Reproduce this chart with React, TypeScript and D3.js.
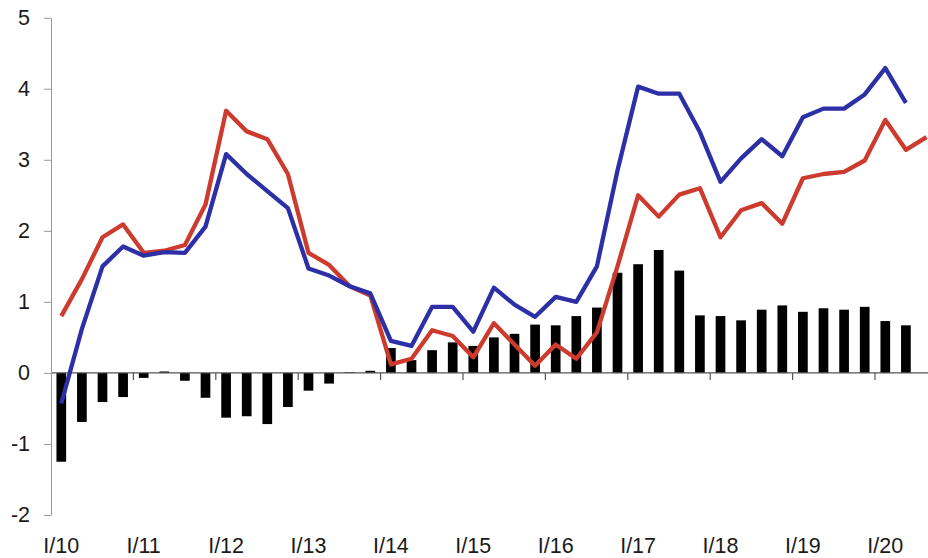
import { useEffect, useRef } from "react"
import * as d3 from "d3"

// quarters from I/10 to IV/20
const quarters = [
  "I/10", "II/10", "III/10", "IV/10",
  "I/11", "II/11", "III/11", "IV/11",
  "I/12", "II/12", "III/12", "IV/12",
  "I/13", "II/13", "III/13", "IV/13",
  "I/14", "II/14", "III/14", "IV/14",
  "I/15", "II/15", "III/15", "IV/15",
  "I/16", "II/16", "III/16", "IV/16",
  "I/17", "II/17", "III/17", "IV/17",
  "I/18", "II/18", "III/18", "IV/18",
  "I/19", "II/19", "III/19", "IV/19",
  "I/20", "II/20", "III/20", "IV/20",
]

const yearLabels = ["I/10", "I/11", "I/12", "I/13", "I/14", "I/15", "I/16", "I/17", "I/18", "I/19", "I/20"]

const yTicks = [-2, -1, 0, 1, 2, 3, 4, 5]

const bars = [
  -1.25, -0.69, -0.41, -0.34, -0.07, 0.02, -0.11, -0.35,
  -0.63, -0.61, -0.72, -0.48, -0.25, -0.15, 0.01, 0.03,
  0.35, 0.18, 0.32, 0.43, 0.38, 0.5, 0.55, 0.68,
  0.67, 0.8, 0.92, 1.41, 1.53, 1.73, 1.44, 0.81,
  0.8, 0.74, 0.89, 0.95, 0.86, 0.91, 0.89, 0.93,
  0.73, 0.67,
]

const blue = [
  -0.43, 0.62, 1.5, 1.78, 1.65, 1.7, 1.69, 2.06,
  3.08, 2.8, 2.56, 2.32, 1.47, 1.37, 1.22, 1.12,
  0.45, 0.38, 0.93, 0.93, 0.58, 1.2, 0.96, 0.79,
  1.07, 1.0, 1.5, 2.85, 4.03, 3.93, 3.93, 3.39,
  2.69, 3.02, 3.29, 3.05, 3.6, 3.72, 3.72, 3.92,
  4.29, 3.8,
]

const red = [
  0.8, 1.32, 1.91, 2.09, 1.69, 1.72, 1.8, 2.37,
  3.69, 3.4, 3.29, 2.8, 1.69, 1.52, 1.22, 1.09,
  0.12, 0.2, 0.6, 0.52, 0.22, 0.7, 0.4, 0.1,
  0.4, 0.2, 0.57, 1.5, 2.5, 2.2, 2.51, 2.6,
  1.91, 2.29, 2.39, 2.1, 2.74, 2.8, 2.83, 2.99,
  3.56, 3.14, 3.32,
]

export default function App() {
  const svgRef = useRef<SVGSVGElement>(null)

  useEffect(() => {
    if (!svgRef.current) return
    d3.select(svgRef.current).selectAll("*").remove()

    const width = 928
    const height = 558
    const left = 51
    const font = "'Liberation Sans', Arial, sans-serif"

    const svg = d3.select(svgRef.current).attr("width", width).attr("height", height)

    const x = d3
      .scaleBand()
      .domain(quarters)
      .range([left, left + quarters.length * 20.6])

    const y = d3.scaleLinear().domain([-2, 5]).range([515, 17.7])

    const cx = (i: number) => (x(quarters[i]) || 0) + x.bandwidth() / 2
    const barW = x.bandwidth() * 0.47

    // bars
    svg
      .append("g")
      .selectAll("rect")
      .data(bars)
      .enter()
      .append("rect")
      .attr("x", (d, i) => cx(i) - barW / 2)
      .attr("y", (d) => y(Math.max(0, d)))
      .attr("width", barW)
      .attr("height", (d) => Math.abs(y(d) - y(0)))
      .attr("fill", "#000")

    // x axis line at zero
    const xa = svg.append("g")
    xa.append("line")
      .attr("x1", left)
      .attr("x2", width)
      .attr("y1", y(0))
      .attr("y2", y(0))
      .attr("stroke", "#555")
      .attr("stroke-width", 1.2)

    xa.selectAll(".tick")
      .data(yearLabels.slice(1))
      .enter()
      .append("line")
      .attr("x1", (d) => x(d) || 0)
      .attr("x2", (d) => x(d) || 0)
      .attr("y1", y(0))
      .attr("y2", y(0) + 7)
      .attr("stroke", "#555")
      .attr("stroke-width", 1.2)

    xa.selectAll(".lbl")
      .data(yearLabels)
      .enter()
      .append("text")
      .attr("x", (d) => (x(d) || 0) + x.bandwidth() / 2)
      .attr("y", 553)
      .attr("text-anchor", "middle")
      .style("font-family", font)
      .style("font-size", "21.5px")
      .style("fill", "#1a1a1a")
      .text((d) => d)

    // y axis
    const ya = svg
      .append("g")
      .attr("transform", `translate(${left},0)`)
      .call(
        d3
          .axisLeft(y)
          .tickValues(yTicks)
          .tickSize(7)
          .tickSizeOuter(0)
          .tickPadding(14)
          .tickFormat((d) => String(d))
      )
    ya.select(".domain").attr("stroke", "#999")
    ya.selectAll(".tick line").attr("stroke", "#999")
    ya.selectAll("text")
      .style("font-family", font)
      .style("font-size", "21.5px")
      .style("fill", "#1a1a1a")

    const line = d3
      .line<number>()
      .x((d, i) => cx(i))
      .y((d) => y(d))

    svg
      .append("path")
      .datum(red)
      .attr("fill", "none")
      .attr("stroke", "#cc3b2d")
      .attr("stroke-width", 4.3)
      .attr("stroke-linejoin", "round")
      .attr("d", line)

    svg
      .append("path")
      .datum(blue)
      .attr("fill", "none")
      .attr("stroke", "#2c2fa5")
      .attr("stroke-width", 4.3)
      .attr("stroke-linejoin", "round")
      .attr("d", line)
  }, [])

  return <svg ref={svgRef} style={{ position: "absolute", left: 0, top: 0, background: "#fff" }}></svg>
}
